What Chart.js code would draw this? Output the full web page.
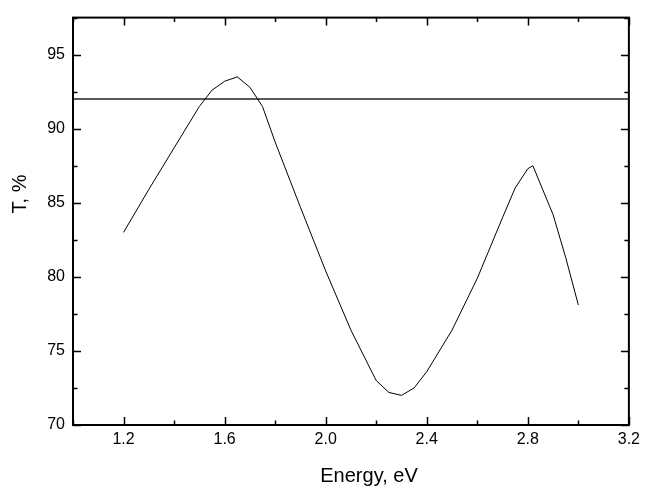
<!DOCTYPE html>
<html>
<head>
<meta charset="utf-8">
<script src="https://cdn.jsdelivr.net/npm/chart.js@4/dist/chart.umd.min.js"></script>
<style>
  html, body { margin: 0; padding: 0; background: #fff; }
  #wrap { width: 645px; height: 486px; }
</style>
</head>
<body>
<div id="wrap"><canvas id="tChart" width="645" height="486"></canvas></div>
<script>
// transmission spectrum
const energy = [1.2, 1.3, 1.4, 1.5, 1.55, 1.6, 1.65, 1.7, 1.75, 1.8, 1.9, 2.0, 2.1, 2.2, 2.25, 2.3, 2.35, 2.4, 2.5, 2.6, 2.7, 2.75, 2.8, 2.82, 2.9, 2.95, 3.0];
const transmission = [83.0, 85.9, 88.7, 91.5, 92.6, 93.2, 93.5, 92.8, 91.5, 89.1, 84.7, 80.4, 76.4, 73.0, 72.2, 72.0, 72.5, 73.6, 76.4, 79.9, 84.0, 86.0, 87.3, 87.5, 84.2, 81.3, 78.1];

// substrate level
const refX = [1.0, 3.2];
const refY = [92, 92];

const xLabels = [1.2, 1.6, 2.0, 2.4, 2.8, 3.2];
const yLabels = [70, 75, 80, 85, 90, 95];

const FONT = "'Liberation Sans', Arial, sans-serif";

function isLabel(list, v) {
  return list.some(l => Math.abs(l - v) < 1e-6);
}

// frame, inward tick marks on all four sides, axis titles
const framePlugin = {
  id: "frame",
  afterDraw(chart) {
    const { ctx, chartArea: a, scales } = chart;
    ctx.save();
    ctx.strokeStyle = "#000";
    ctx.lineWidth = 1.5;
    ctx.beginPath();
    scales.x.ticks.forEach(t => {
      const px = Math.round(scales.x.getPixelForValue(t.value)) + 0.5;
      const len = isLabel(xLabels, t.value) ? 8 : 4.5;
      ctx.moveTo(px, a.bottom); ctx.lineTo(px, a.bottom - len);
      ctx.moveTo(px, a.top); ctx.lineTo(px, a.top + len);
    });
    scales.y.ticks.forEach(t => {
      const py = Math.round(scales.y.getPixelForValue(t.value)) + 0.5;
      const len = isLabel(yLabels, t.value) ? 8 : 4.5;
      ctx.moveTo(a.left, py); ctx.lineTo(a.left + len, py);
      ctx.moveTo(a.right, py); ctx.lineTo(a.right - len, py);
    });
    ctx.stroke();
    ctx.lineWidth = 2;
    ctx.strokeRect(a.left, a.top, a.right - a.left, a.bottom - a.top);

    ctx.fillStyle = "#000";
    ctx.font = "20px " + FONT;
    ctx.textAlign = "center";
    ctx.textBaseline = "alphabetic";
    ctx.fillText("Energy, eV", 369, 482);
    ctx.translate(26, 194);
    ctx.rotate(-Math.PI / 2);
    ctx.fillText("T, %", 0, 0);
    ctx.restore();
  }
};

const ctx = document.getElementById("tChart").getContext("2d");

new Chart(ctx, {
  type: "line",
  data: {
    datasets: [
      {
        data: energy.map((e, i) => ({ x: e, y: transmission[i] })),
        borderColor: "#000",
        borderWidth: 1,
        pointRadius: 0,
        tension: 0,
      },
      {
        data: refX.map((e, i) => ({ x: e, y: refY[i] })),
        borderColor: "#222",
        borderWidth: 1.5,
        pointRadius: 0,
        tension: 0,
      },
    ],
  },
  options: {
    responsive: false,
    animation: false,
    layout: { padding: { top: 14, right: 13, left: 0, bottom: 0 } },
    plugins: {
      legend: { display: false },
      tooltip: { enabled: false },
    },
    scales: {
      x: {
        type: "linear",
        min: 1.0,
        max: 3.2,
        afterFit: s => { s.height = 61; },
        grid: { display: false, drawTicks: false },
        border: { display: false },
        ticks: {
          stepSize: 0.2,
          autoSkip: false,
          maxRotation: 0,
          padding: 5,
          color: "#000",
          font: { family: FONT, size: 16 },
          callback: v => (isLabel(xLabels, v) ? v.toFixed(1) : ""),
        },
      },
      y: {
        min: 70,
        max: 97.5,
        afterFit: s => { s.width = 73; },
        grid: { display: false, drawTicks: false },
        border: { display: false },
        ticks: {
          stepSize: 2.5,
          autoSkip: false,
          padding: 8,
          color: "#000",
          font: { family: FONT, size: 16 },
          callback: v => (isLabel(yLabels, v) ? String(v) : ""),
        },
      },
    },
  },
  plugins: [framePlugin],
});
</script>
</body>
</html>
